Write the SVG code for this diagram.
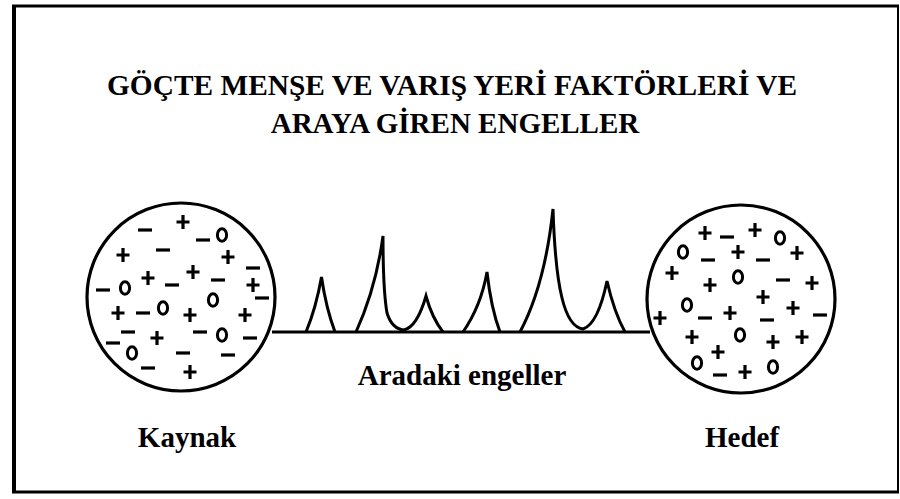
<svg xmlns="http://www.w3.org/2000/svg" xmlns:xlink="http://www.w3.org/1999/xlink" width="900" height="499" viewBox="0 0 900 499">
<style>
.t{font-family:"Liberation Serif","Times New Roman",serif;font-weight:bold;fill:#000;text-anchor:middle}
.s{fill:none;stroke:#000;stroke-linecap:butt}
.c{fill:#fff;stroke:#000;stroke-width:3.2}
.pk{fill:none;stroke:#000;stroke-width:3;stroke-linejoin:miter}
</style>
<defs>
<path id="p" d="M-6.5,0H6.5M0,-7V7" class="s" stroke-width="3.2"/>
<path id="m" d="M-7,0H7" class="s" stroke-width="3.2"/>
<ellipse id="o" rx="4.6" ry="6.3" class="s" stroke-width="3"/>
</defs>
<rect width="900" height="499" fill="#fff"/>
<g id="frame" class="s">
<line x1="14" y1="5" x2="14" y2="493" stroke-width="4"/>
<line x1="12" y1="6" x2="899" y2="6" stroke-width="3"/>
<line x1="12" y1="492" x2="899" y2="492" stroke-width="3"/>
<line x1="898" y1="5" x2="898" y2="493" stroke-width="2"/>
</g>
<g id="title">
<text class="t" x="452" y="95" font-size="29" textLength="690" lengthAdjust="spacingAndGlyphs">GÖÇTE MENŞE VE VARIŞ YERİ FAKTÖRLERİ VE</text>
<text class="t" x="455" y="133" font-size="29">ARAYA GİREN ENGELLER</text>
</g>
<g id="connectors">
<line class="s" x1="272" y1="332" x2="650" y2="332" stroke-width="3.2"/>
</g>
<g id="engeller">
<path class="pk" d="M306,332 Q316,308 321.5,277 Q326,308 335,332"/>
<path class="pk" d="M356,332 Q376,288 383,236 Q383,290 387,313 Q392,329 404,330 Q417,327 426,296 Q432,318 443,332"/>
<path class="pk" d="M463,332 Q481,306 487,272 Q491,308 500,332"/>
<path class="pk" d="M520,332 Q545,285 553,209 Q555,270 562,298 Q569,327 583,329 Q598,324 607,281 Q614,312 625,332"/>
<text class="t" x="462" y="385" font-size="29">Aradaki engeller</text>
</g>
<g id="kaynak">
<circle class="c" cx="181" cy="297" r="94"/>
<use xlink:href="#m" x="145" y="230"/><use xlink:href="#p" x="183" y="222"/><use xlink:href="#m" x="203" y="240"/><use xlink:href="#o" x="222" y="235"/>
<use xlink:href="#p" x="123" y="255"/><use xlink:href="#m" x="163" y="250"/><use xlink:href="#p" x="228" y="257"/><use xlink:href="#m" x="253" y="268"/>
<use xlink:href="#p" x="193" y="272"/><use xlink:href="#p" x="148" y="278"/><use xlink:href="#m" x="172" y="285"/><use xlink:href="#m" x="218" y="280"/><use xlink:href="#p" x="253" y="285"/>
<use xlink:href="#m" x="103" y="290"/><use xlink:href="#o" x="125" y="288"/><use xlink:href="#m" x="262" y="298"/><use xlink:href="#o" x="213" y="300"/>
<use xlink:href="#p" x="118" y="313"/><use xlink:href="#m" x="143" y="313"/><use xlink:href="#o" x="163" y="308"/><use xlink:href="#p" x="190" y="315"/><use xlink:href="#p" x="245" y="315"/>
<use xlink:href="#m" x="128" y="332"/><use xlink:href="#p" x="157" y="338"/><use xlink:href="#m" x="200" y="332"/><use xlink:href="#o" x="222" y="335"/><use xlink:href="#m" x="250" y="338"/>
<use xlink:href="#m" x="113" y="343"/><use xlink:href="#o" x="132" y="353"/><use xlink:href="#m" x="183" y="353"/><use xlink:href="#m" x="228" y="355"/>
<use xlink:href="#m" x="148" y="368"/><use xlink:href="#p" x="190" y="372"/>
<text class="t" x="187" y="447" font-size="29">Kaynak</text>
</g>
<g id="hedef">
<circle class="c" cx="741" cy="299" r="94"/>
<use xlink:href="#p" x="705" y="233"/><use xlink:href="#m" x="727" y="237"/><use xlink:href="#p" x="755" y="230"/><use xlink:href="#o" x="780" y="238"/>
<use xlink:href="#o" x="683" y="252"/><use xlink:href="#p" x="738" y="252"/><use xlink:href="#p" x="797" y="253"/><use xlink:href="#m" x="708" y="260"/><use xlink:href="#m" x="763" y="260"/>
<use xlink:href="#p" x="672" y="273"/><use xlink:href="#p" x="710" y="285"/><use xlink:href="#o" x="738" y="277"/><use xlink:href="#m" x="783" y="280"/><use xlink:href="#p" x="812" y="283"/>
<use xlink:href="#p" x="763" y="297"/><use xlink:href="#o" x="687" y="305"/><use xlink:href="#m" x="705" y="318"/><use xlink:href="#p" x="730" y="313"/><use xlink:href="#p" x="793" y="308"/><use xlink:href="#m" x="767" y="320"/><use xlink:href="#m" x="820" y="315"/>
<use xlink:href="#p" x="660" y="318"/><use xlink:href="#p" x="692" y="337"/><use xlink:href="#o" x="740" y="335"/><use xlink:href="#p" x="773" y="342"/><use xlink:href="#p" x="802" y="337"/>
<use xlink:href="#p" x="718" y="352"/><use xlink:href="#o" x="697" y="363"/><use xlink:href="#m" x="720" y="375"/><use xlink:href="#p" x="745" y="372"/><use xlink:href="#o" x="773" y="367"/>
<text class="t" x="742" y="447" font-size="29">Hedef</text>
</g>
</svg>
